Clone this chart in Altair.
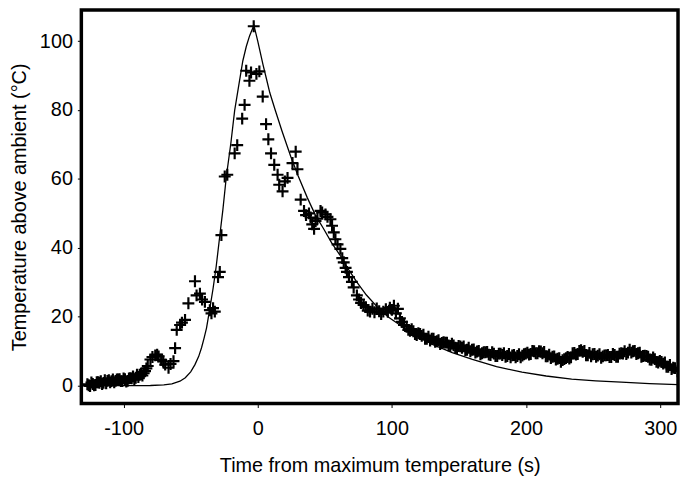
import altair as alt
import pandas as pd

# Model curve (solid line)
curve_t = [-131.5, -110, -90, -80, -70, -64, -58, -54, -50, -46.8, -44, -41.9, -40, -38.2,
           -35.7, -33.3, -31, -28.3, -26, -23.4, -20, -17.2, -14, -11.1, -8.5, -6.1, -4, -2.8,
           0, 2, 4, 6.2, 9, 13, 18, 24.6, 30, 37, 43, 49.3, 55, 61.6, 68, 74, 81, 88.7, 97,
           106, 118, 130.6, 145, 160, 178, 197, 215, 234, 252, 271, 292, 313.3]
curve_temp = [0, 0, 0, 0.05, 0.2, 0.5, 1.3, 2.3, 4.0, 6.1, 8.5, 11, 13.8, 16.7,
              22.4, 28.2, 34.5, 43.5, 51, 60.7, 70.5, 79.9, 87.5, 94.3, 98.5, 101.5, 103.5, 104.5,
              100, 96.5, 93, 89.5, 85, 80, 74, 66.5, 61, 54.5, 49.5, 45.4, 41.5, 37.7, 33.5, 30, 26.3, 23, 20,
              17.6, 14.5, 11.9, 9.6, 7.6, 5.5, 3.9, 2.8, 1.9, 1.4, 1.0, 0.6, 0.3]

# Measured temperatures (+ markers)
meas_t = [
    -127, -126, -125, -124, -123, -122, -121, -120, -119, -118, -117, -116, -115, -114,
    -113, -112, -111, -110, -109, -108, -107, -106, -105, -104, -103, -102, -101, -100,
    -99, -98, -97, -96, -95, -94, -93, -92, -91, -90, -89, -88, -87, -86, -85, -84,
    -83, -82, -80, -78.5, -76.4, -75, -73.9, -72, -70.5, -69, -66.5, -65, -62.8, -61.6,
    -60.4, -57.9, -56.5, -54.2, -51.7, -46.8, -45.6, -43.1, -41.5, -39.4, -35.7, -34.5,
    -33.3, -32, -29.6, -28.3, -27.1, -24.6, -22.7, -17.2, -15.3, -11.6, -9.8, -8.6, -6.2,
    -5, -3, -1, 1.2, 3.7, 6.2, 7.9, 9.9, 12.3, 14.8, 16, 18.5, 20.2, 22.2, 25.9, 28.3,
    29.6, 32, 34.5, 36, 38.2, 39.4, 40.6, 42, 43.1, 44.5, 46.8, 48, 50.5, 52, 54.2, 55.4,
    56.7, 57.9, 59.5, 61.6, 63, 64.1, 65.5, 66.5, 68, 70.2, 71.5, 73.9, 75.5, 77, 78.9,
    80.5, 82, 83.7, 85.5, 87, 88.7, 90.5, 92, 93.6, 95.5, 97, 98.5, 100, 101.5, 103,
    104.5, 106, 107.5, 109,
    111, 113.5, 116, 118.5, 121, 123.5, 126, 128.5, 131, 133.5, 136, 138.5, 141, 143.5,
    146, 148.5, 151, 153.5, 156, 158.5, 161, 163.5, 166, 168.5, 171, 173.5, 176, 178.5,
    181, 183.5, 186, 188.5, 191, 193.5, 196, 198.5, 201, 203.5, 206, 208.5, 211, 213.5,
    216, 218.5, 221, 223.5, 226, 228.5, 231, 233.5, 236, 238.5, 241, 243.5, 246, 248.5,
    251, 253.5, 256, 258.5, 261, 263.5, 266, 268.5, 271, 273.5, 276, 278.5, 281, 283.5,
    286, 288.5, 291, 293.5, 296, 298.5, 301, 303.5, 306, 308.5, 311, 313,
    112.25, 114.75, 117.25, 119.75, 122.25, 124.75, 127.25, 129.75, 132.25, 134.75,
    137.25, 139.75, 142.25, 144.75, 147.25, 149.75, 152.25, 154.75, 157.25, 159.75,
    162.25, 164.75, 167.25, 169.75, 172.25, 174.75, 177.25, 179.75, 182.25, 184.75,
    187.25, 189.75, 192.25, 194.75, 197.25, 199.75, 202.25, 204.75, 207.25, 209.75,
    212.25, 214.75, 217.25, 219.75, 222.25, 224.75, 227.25, 229.75, 232.25, 234.75,
    237.25, 239.75, 242.25, 244.75, 247.25, 249.75, 252.25, 254.75, 257.25, 259.75,
    262.25, 264.75, 267.25, 269.75, 272.25, 274.75, 277.25, 279.75, 282.25, 284.75,
    287.25, 289.75, 292.25, 294.75, 297.25, 299.75, 302.25, 304.75, 307.25, 309.75,
]
meas_temp = [
    0.4, 0.1, -0.1, 0.9, 0.5, 0.1, 0.2, 1.0, 1.0, 0.85, 1.3, 0.5, 0.8, 1.55,
    0.7, 1.4, 1.6, 0.95, 1.3, 1.8, 1.0, 1.4, 1.8, 1.8, 1.9, 1.3, 1.3, 2.1,
    1.9, 1.2, 1.4, 2.1, 2.2, 2.1, 2.7, 1.9, 2.3, 3.15, 2.5, 3.15, 3.4, 2.95, 3.6, 4.2,
    5.0, 5.7, 7.6, 8.3, 8.8, 9.0, 8.5, 7.5, 7.0, 6.1, 5.2, 6.3, 7.1, 10.9,
    16.2, 17.6, 18.3, 19.1, 23.9, 30.3, 26.2, 26.7, 25.0, 24.3, 21.9, 21.0,
    22.5, 21.5, 31.5, 33.0, 43.7, 60.7, 61.2, 67.4, 69.8, 77.5, 81.5, 91.4, 88.5,
    90.9, 104.3, 90.5, 91.2, 83.9, 75.9, 71.5, 67.4, 64.1, 61.2, 58.3, 56.4, 59.3, 60.3, 64.6, 67.9,
    62.8, 54.0, 50.7, 49.5, 50.0, 48.8, 46.8, 45.5, 47.8, 48.5, 50.7, 50.3, 49.7, 49.0, 48.3, 46.4,
    44.5, 42.5, 41.0, 39.7, 37.0, 35.8, 34.2, 33.0, 31.5, 30.1, 28.5, 26.2, 25.0, 24.0, 23.4,
    22.8, 21.8, 21.5, 22.3, 21.3, 22.4, 21.6, 20.8, 21.5, 22.2, 21.4, 22.6, 22.0, 23.2, 21.0,
    22.3, 19.5, 18.5, 17.6,
    17.1, 15.9, 15.8, 14.7, 15.0, 14.8, 13.6, 13.1, 13.6, 12.9, 12.1, 12.6, 12.5, 11.5,
    11.7, 10.9, 11.4, 11.4, 10.4, 10.0, 10.5, 9.9, 9.1, 9.7, 9.8, 8.9, 9.3, 8.6,
    9.3, 9.4, 8.6, 8.2, 8.9, 8.6, 8.2, 9.1, 9.6, 9.2, 10.0, 9.4, 9.9, 9.8,
    8.5, 8.0, 8.5, 7.8, 6.9, 7.7, 8.3, 8.2, 9.5, 9.2, 10.3, 10.1, 8.8, 8.5,
    9.2, 8.7, 8.1, 8.8, 8.9, 8.3, 8.9, 8.4, 9.4, 10.0, 9.6, 9.6, 10.1, 9.4,
    8.4, 8.7, 8.4, 7.5, 7.7, 6.7, 6.9, 6.7, 5.5, 4.8, 5.1, 4.2,
    16.2, 16.4, 15.0, 15.2, 14.45, 13.6, 14.2, 13.6, 12.7, 13.2,
    12.4, 12.5, 11.7, 12.2, 11.0, 11.5, 11.0, 10.3, 11.0, 10.4,
    9.6, 10.1, 9.4, 9.7, 9.0, 9.7, 8.6, 9.3, 8.9, 8.4,
    9.2, 8.8, 8.2, 9.1, 8.7, 9.3, 9.0, 10.1, 9.4, 10.0,
    9.4, 8.5, 9.0, 8.4, 7.6, 8.0, 7.4, 8.0, 7.9, 9.4,
    9.0, 10.1, 9.8, 8.8, 9.5, 9.1, 8.4, 9.1, 8.5, 8.8,
    8.3, 9.2, 8.4, 9.3, 9.3, 9.2, 10.4, 10.0, 9.2, 9.6,
    8.6, 8.6, 7.6, 8.2, 6.9, 7.2, 6.4, 5.5, 6.0, 5.2,
]

x_ticks = [-100, 0, 100, 200, 300]
y_ticks = [0, 20, 40, 60, 80, 100]

curve_df = pd.DataFrame({"t": curve_t, "temp": curve_temp})
meas_df = pd.DataFrame({"t": meas_t, "temp": meas_temp})

FONT = "Liberation Sans"
x_scale = alt.Scale(domain=[-131.5, 313.3], nice=False, zero=False)
y_scale = alt.Scale(domain=[-5.2, 109.0], nice=False, zero=False)

common_axis = dict(grid=False, domain=False, ticks=True, tickSize=4, tickColor="black",
                   tickWidth=1, labelFontSize=20, titleFontSize=20, labelColor="black",
                   titleColor="black", titleFontWeight="normal", labelFont=FONT,
                   titleFont=FONT, labelExpr="datum.value + ''")

x_axis = alt.Axis(title="Time from maximum temperature (s)", values=x_ticks,
                  labelPadding=11, titlePadding=18, **common_axis)
y_axis = alt.Axis(title="Temperature above ambient (°C)", values=y_ticks,
                  labelPadding=5, titlePadding=10, **common_axis)

points = alt.Chart(meas_df).mark_point(
    shape="M-1,0L1,0M0,-1L0,1", size=144, filled=False, stroke="black",
    strokeWidth=2.2, opacity=1, clip=True
).encode(
    x=alt.X("t:Q", scale=x_scale, axis=x_axis),
    y=alt.Y("temp:Q", scale=y_scale, axis=y_axis),
)

line = alt.Chart(curve_df).mark_line(color="black", strokeWidth=1.3, clip=True).encode(
    x=alt.X("t:Q", scale=x_scale),
    y=alt.Y("temp:Q", scale=y_scale),
)

chart = alt.layer(points, line).properties(
    width=602, height=397,
    autosize=alt.AutoSizeParams(type="none"),
    padding={"left": 74, "top": 0, "right": 2, "bottom": 74},
    background="white",
).configure_view(stroke="black", strokeWidth=3.5)

chart.save("out.html", embed_options={"renderer": "svg", "actions": False})
